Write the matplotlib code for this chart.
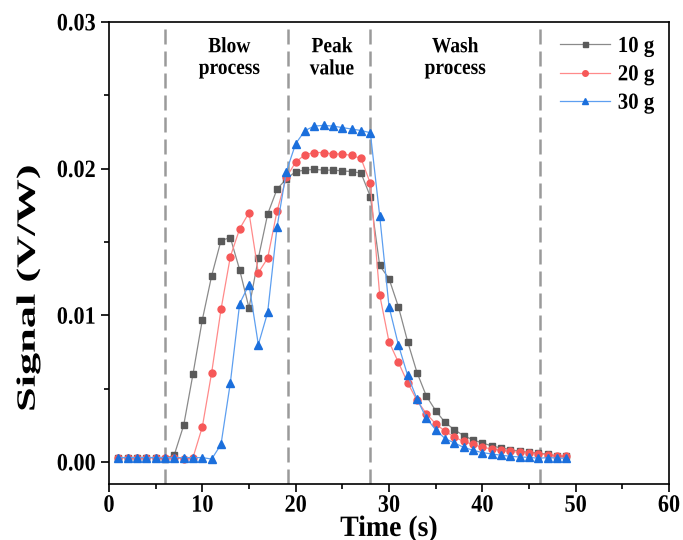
import matplotlib
matplotlib.use("Agg")
import matplotlib.pyplot as plt
from matplotlib.ticker import MultipleLocator, FormatStrFormatter
from matplotlib import patheffects
from matplotlib.transforms import Affine2D

plt.rcParams['font.family'] = ['Liberation Serif', 'DejaVu Serif']
plt.rcParams['font.weight'] = 'bold'

time_s = list(range(1, 50))

signal_10g = [0.0003, 0.0003, 0.0003, 0.0003, 0.0003, 0.0002, 0.0005, 0.0025, 0.0060, 0.0097,
              0.0127, 0.0151, 0.0153, 0.0131, 0.0105, 0.0139, 0.0169, 0.0186, 0.0193, 0.0198,
              0.0199, 0.01995, 0.0199, 0.0199, 0.01985, 0.0198, 0.0197, 0.0181, 0.0134, 0.0125,
              0.0106, 0.0082, 0.0061, 0.0045, 0.0035, 0.0027, 0.0022, 0.0018, 0.0015, 0.0013,
              0.0011, 0.00096, 0.00085, 0.00073, 0.00066, 0.00062, 0.00053, 0.00041, 0.00039]

signal_20g = [0.0003, 0.0003, 0.0003, 0.0003, 0.0003, 0.0003, 0.0003, 0.0002, 0.0003, 0.0024,
              0.0061, 0.0104, 0.0140, 0.0159, 0.0170, 0.0129, 0.0139, 0.0171, 0.0194, 0.02045,
              0.02095, 0.0211, 0.0211, 0.0210, 0.0210, 0.0209, 0.0207, 0.0190, 0.0114, 0.0082,
              0.0068, 0.0054, 0.0042, 0.0033, 0.0026, 0.0021, 0.0017, 0.0014, 0.0012, 0.0010,
              0.0009, 0.0008, 0.00073, 0.00066, 0.00064, 0.00055, 0.0005, 0.00041, 0.00041]

signal_30g = [0.0003, 0.0003, 0.0003, 0.0003, 0.0003, 0.0003, 0.0003, 0.0003, 0.0003, 0.0003,
              0.0002, 0.0012, 0.0054, 0.0108, 0.0121, 0.0080, 0.0102, 0.0160, 0.0198, 0.0217,
              0.0226, 0.0229, 0.02295, 0.0229, 0.0228, 0.0227, 0.0226, 0.02245, 0.0168, 0.0106,
              0.0080, 0.0059, 0.0043, 0.0030, 0.0022, 0.0016, 0.0013, 0.0010, 0.0008, 0.00064,
              0.00055, 0.00046, 0.00039, 0.00034, 0.00032, 0.00025, 0.0003, 0.00027, 0.00025]

series_labels = ['10 g', '20 g', '30 g']
phase_bounds = [6, 19.2, 28, 46.2]
phase_labels = ['Blow\nprocess', 'Peak\nvalue', 'Wash\nprocess']
phase_label_x = [12.9, 23.9, 37.1]


class Stretch(patheffects.AbstractPathEffect):
    """Scale the drawn glyph outline about its centre (text stays real text)."""
    def __init__(self, sx=1.0, sy=1.0):
        super().__init__()
        self.sx, self.sy = sx, sy

    def draw_path(self, renderer, gc, tpath, affine, rgbFace=None):
        ext = tpath.get_extents(affine)
        cx = 0.5 * (ext.x0 + ext.x1)
        cy = 0.5 * (ext.y0 + ext.y1)
        tr = affine + Affine2D().translate(-cx, -cy).scale(self.sx, self.sy).translate(cx, cy)
        renderer.draw_path(gc, tpath, tr, rgbFace)


fig = plt.figure(figsize=(6.83, 5.4), dpi=100)
ax = fig.add_axes([0.1596, 0.1037, 0.8199, 0.8556])

styles = [
    dict(marker='s', color='#8a8a8a', mfc='#5a5a5a', mec='#5a5a5a', ms=4.5),
    dict(marker='o', color='#ff8a8a', mfc='#f65858', mec='#f65858', ms=5.0),
    dict(marker='^', color='#5d9ff0', mfc='#1b6fdc', mec='#1b6fdc', ms=5.4),
]
for data, lab, st in zip([signal_10g, signal_20g, signal_30g], series_labels, styles):
    ax.plot(time_s, data, lw=0.9, label=lab, **st)

for xb in phase_bounds:
    ax.axvline(xb, color='#9a9a9a', lw=1.8, ls=(0, (6, 2.8)), zorder=0)

for xl, txt in zip(phase_label_x, phase_labels):
    ax.text(xl, 0.922, txt, transform=ax.get_xaxis_transform(), ha='center', va='center',
            fontsize=14, fontweight='bold', linespacing=1.4,
            path_effects=[Stretch(1.0, 1.12)])

ax.set_xlim(0, 60)
ax.set_ylim(-0.0015, 0.03)
ax.xaxis.set_major_locator(MultipleLocator(10))
ax.xaxis.set_minor_locator(MultipleLocator(5))
ax.yaxis.set_major_locator(MultipleLocator(0.01))
ax.yaxis.set_minor_locator(MultipleLocator(0.005))
ax.yaxis.set_major_formatter(FormatStrFormatter('%.2f'))
ax.tick_params(which='major', direction='out', length=6, width=1.2, labelsize=16)
ax.tick_params(axis='x', which='major', pad=2.5)
ax.tick_params(which='minor', direction='out', length=3.5, width=1.2)
for lbl in ax.get_xticklabels() + ax.get_yticklabels():
    lbl.set_fontweight('bold')
    lbl.set_path_effects([Stretch(1.0, 1.12)])
for sp in ax.spines.values():
    sp.set_linewidth(1.2)

ax.set_xlabel('Time (s)', fontsize=20, fontweight='bold', labelpad=0.5,
              path_effects=[Stretch(1.0, 1.06)])
ax.set_ylabel('Signal (V/W)', fontsize=19, fontweight='bold',
              path_effects=[Stretch(1.0, 1.68)])
ax.yaxis.set_label_coords(-0.123, 0.424)

leg = ax.legend(loc='upper right', frameon=False, handlelength=2.4,
                handletextpad=0.35, labelspacing=0.4, borderaxespad=0.3, markerscale=0.8,
                prop={'weight': 'bold', 'size': 15})
for t in leg.get_texts():
    t.set_path_effects([Stretch(1.0, 1.1)])

fig.savefig('out.png', dpi=100)
